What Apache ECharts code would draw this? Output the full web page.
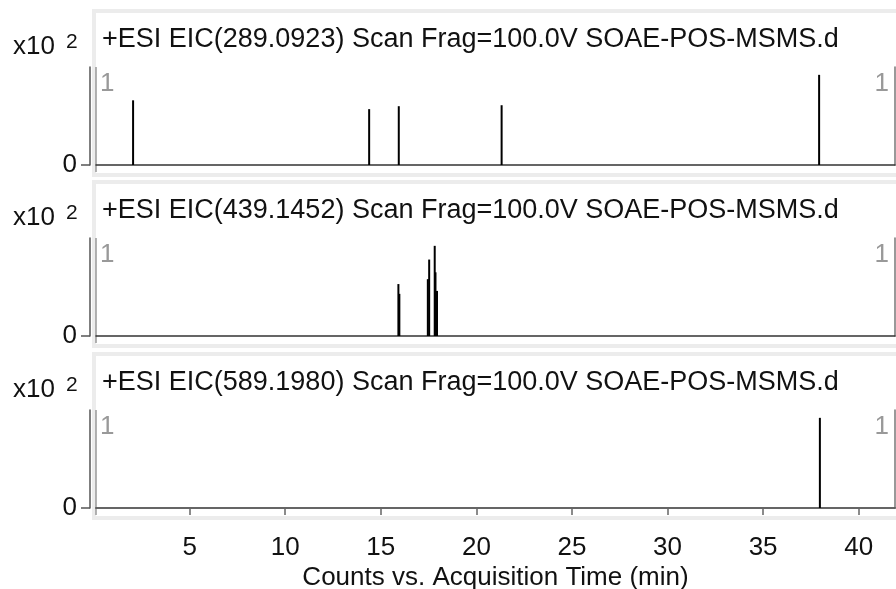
<!DOCTYPE html>
<html><head><meta charset="utf-8">
<script src="https://cdn.jsdelivr.net/npm/echarts@6/dist/echarts.min.js"></script>
<style>html,body{margin:0;padding:0;background:#fff}#c{width:896px;height:589px}</style>
</head><body><div id="c"></div>
<script>
// ---- data ----
const panelTitles = [
  '+ESI EIC(289.0923) Scan Frag=100.0V SOAE-POS-MSMS.d',
  '+ESI EIC(439.1452) Scan Frag=100.0V SOAE-POS-MSMS.d',
  '+ESI EIC(589.1980) Scan Frag=100.0V SOAE-POS-MSMS.d'
];
// [retention time (min), relative counts]
const peaks1 = [[2.04, 66], [14.39, 57], [15.94, 60], [21.32, 61], [37.93, 92]];
const peaks2 = [[15.92, 53], [15.97, 43], [17.46, 58], [17.53, 78], [17.82, 92], [17.86, 65], [17.94, 46]];
const peaks3 = [[37.97, 92]];
const xTickValues = [5, 10, 15, 20, 25, 30, 35, 40];
const yTickValues = [0];
const xMin = 0.1, xMax = 41.9, yMax = 100;
const xAxisTitle = 'Counts vs. Acquisition Time (min)';
const scaleText = 'x10', scaleExp = '2', cornerLabel = '1';

// ---- layout ----
const W = 896, plotLeft = 96, plotRight = 1, plotH = 98;
const tops = [67, 238, 410];
const FONT = '"Liberation Sans", Arial, sans-serif';
const allPeaks = [peaks1, peaks2, peaks3];

const grids = tops.map(t => ({ left: plotLeft, right: plotRight, top: t, height: plotH,
  outerBoundsMode: 'none', containLabel: false }));
const xAxes = tops.map((t, i) => ({
  type: 'value', gridIndex: i, min: xMin, max: xMax,
  axisLine: { show: true, lineStyle: { color: '#333', width: 1.5 } },
  axisTick: { show: false }, axisLabel: { show: false }, splitLine: { show: false }
}));
xAxes.push({
  type: 'value', gridIndex: 2, min: xMin, max: xMax, position: 'bottom', offset: 15,
  axisLine: { show: true, lineStyle: { color: '#666', width: 1.5 } },
  axisTick: { show: true, customValues: xTickValues, length: 7, lineStyle: { color: '#666', width: 1.5 } },
  axisLabel: { show: true, customValues: xTickValues, fontSize: 26, fontFamily: FONT, color: '#111', margin: 12 },
  splitLine: { show: false },
  name: xAxisTitle, nameLocation: 'middle', nameGap: 42,
  nameTextStyle: { fontSize: 26, fontFamily: FONT, color: '#111' }
});
const yAxes = [];
tops.forEach((t, i) => {
  yAxes.push({
    type: 'value', gridIndex: i, min: 0, max: yMax, position: 'left', offset: 6,
    axisLine: { show: true, lineStyle: { color: '#555', width: 1.5 } },
    axisTick: { show: true, customValues: yTickValues, length: 9, lineStyle: { color: '#555', width: 1.5 } },
    axisLabel: { show: true, customValues: yTickValues, fontSize: 26, fontFamily: FONT, color: '#111', margin: 13 },
    splitLine: { show: false }
  });
  yAxes.push({
    type: 'value', gridIndex: i, min: 0, max: yMax, position: 'right',
    axisLine: { show: true, lineStyle: { color: '#777', width: 1.5 } },
    axisTick: { show: false }, axisLabel: { show: false }, splitLine: { show: false }
  });
});
const series = allPeaks.map((p, i) => ({
  type: 'bar', xAxisIndex: i, yAxisIndex: i * 2, data: p, barWidth: 2,
  itemStyle: { color: '#000' }, silent: true, animation: false
}));

const graphics = [];
tops.forEach((t, i) => {
  graphics.push({ type: 'rect', z: -1, shape: { x: 94, y: t - 56, width: W, height: 164 },
    style: { fill: 'none', stroke: '#ececec', lineWidth: 4 } });
  graphics.push({ type: 'line', shape: { x1: plotLeft, y1: t, x2: plotLeft, y2: t + plotH + 7 },
    style: { stroke: '#999', lineWidth: 1.5 } });
  graphics.push({ type: 'text', x: 102, y: t - 27, style: { text: panelTitles[i], font: '27px ' + FONT,
    fill: '#111', textVerticalAlign: 'middle' } });
  graphics.push({ type: 'text', x: 13, y: t - 20, style: { text: scaleText, font: '26px ' + FONT,
    fill: '#111', textVerticalAlign: 'middle' } });
  graphics.push({ type: 'text', x: 66, y: t - 25, style: { text: scaleExp, font: '21px ' + FONT,
    fill: '#111', textVerticalAlign: 'middle' } });
  graphics.push({ type: 'text', x: 100, y: t + 17, style: { text: cornerLabel, font: '26px ' + FONT,
    fill: '#999', textVerticalAlign: 'middle' } });
  graphics.push({ type: 'text', x: 889, y: t + 17, style: { text: cornerLabel, font: '26px ' + FONT,
    fill: '#999', textVerticalAlign: 'middle', textAlign: 'right' } });
});

const chart = echarts.init(document.getElementById('c'), null, { renderer: 'canvas' });
chart.setOption({
  animation: false, backgroundColor: '#fff',
  grid: grids, xAxis: xAxes, yAxis: yAxes, series: series, graphic: graphics
});
</script></body></html>
